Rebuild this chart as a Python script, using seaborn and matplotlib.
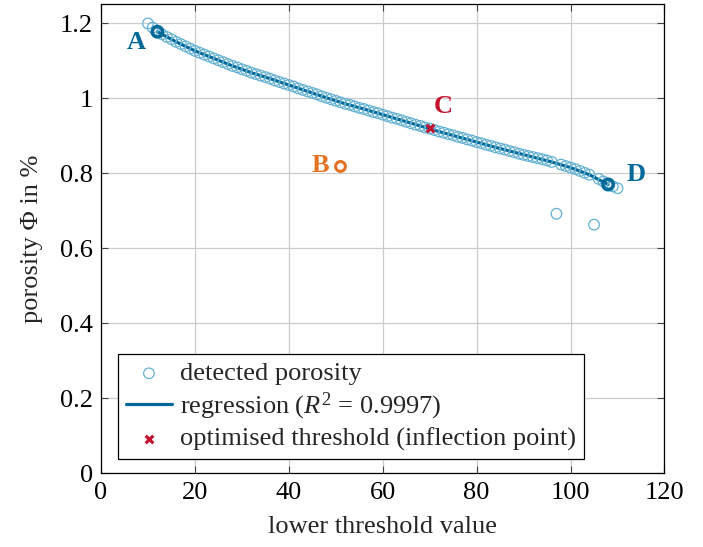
import numpy as np
import pandas as pd
import matplotlib
matplotlib.use("Agg")
import matplotlib.pyplot as plt
import seaborn as sns

# detected porosity (lower threshold value -> porosity)
thr = list(range(10, 111))
porosity = [
    1.199, 1.188, 1.177, 1.170, 1.163, 1.157, 1.150, 1.144, 1.138, 1.132,  # 10-19
    1.126, 1.121, 1.116, 1.111, 1.106, 1.101, 1.096, 1.091, 1.086, 1.082,  # 20-29
    1.077, 1.073, 1.068, 1.064, 1.060, 1.056, 1.052, 1.047, 1.043, 1.039,  # 30-39
    1.035, 1.031, 1.026, 1.022, 1.018, 1.014, 1.010, 1.005, 1.001, 0.997,  # 40-49
    0.993, 0.989, 0.985, 0.982, 0.978, 0.974, 0.971, 0.967, 0.963, 0.960,  # 50-59
    0.956, 0.952, 0.948, 0.945, 0.941, 0.937, 0.933, 0.929, 0.926, 0.922,  # 60-69
    0.919, 0.915, 0.911, 0.908, 0.904, 0.901, 0.897, 0.894, 0.890, 0.887,  # 70-79
    0.883, 0.880, 0.876, 0.873, 0.869, 0.866, 0.863, 0.859, 0.856, 0.852,  # 80-89
    0.849, 0.846, 0.843, 0.840, 0.837, 0.834, 0.830, 0.692, 0.823, 0.819,  # 90-99
    0.815, 0.811, 0.806, 0.801, 0.796, 0.663, 0.785, 0.778, 0.770, 0.765,  # 100-109
    0.760,                                                                 # 110
]

# regression curve
reg_x = [12, 16, 20, 24, 28, 32, 36, 40, 44, 48, 52, 56, 60, 64, 68, 72, 76, 80,
         84, 88, 92, 96, 100, 104, 108]
reg_y = [1.177, 1.150, 1.126, 1.106, 1.086, 1.068, 1.052, 1.035, 1.018, 1.001,
         0.985, 0.971, 0.956, 0.941, 0.926, 0.911, 0.897, 0.883, 0.869, 0.856,
         0.843, 0.830, 0.815, 0.796, 0.770]

# highlighted points
pt_labels = ["A", "B", "C", "D"]
pt_x = [12, 51, 70, 108]
pt_y = [1.177, 0.818, 0.920, 0.770]

xticks = [0, 20, 40, 60, 80, 100, 120]
yticks = [0, 0.2, 0.4, 0.6, 0.8, 1.0, 1.2]
yticklabels = ["0", "0.2", "0.4", "0.6", "0.8", "1", "1.2"]

LIGHT = "#62b1d3"
DARK = "#00699a"
RED = "#c4122f"
ORANGE = "#e37222"

sns.set_theme(style="whitegrid")
plt.rcParams["font.family"] = ["Liberation Serif", "DejaVu Serif"]
plt.rcParams["mathtext.fontset"] = "custom"
plt.rcParams["mathtext.rm"] = "Liberation Serif"
plt.rcParams["mathtext.it"] = "Liberation Serif:italic"

FS = 19

fig = plt.figure(figsize=(7.03, 5.47), dpi=100)
ax = fig.add_axes([0.1437, 0.1344, 0.8015, 0.8577])

df = pd.DataFrame({"thr": thr, "porosity": porosity})
rdf = pd.DataFrame({"x": reg_x, "y": reg_y})

REG_LABEL = "regression ($R^2$ = 0.9997)"
sns.lineplot(data=rdf, x="x", y="y", ax=ax, color=DARK, lw=2.3,
             label=REG_LABEL, zorder=3)
sns.scatterplot(data=df, x="thr", y="porosity", ax=ax, marker="o", s=58,
                facecolor="none", edgecolor=LIGHT, linewidth=0.9,
                label="detected porosity", zorder=4)

# A and D thick markers
ax.scatter([pt_x[0], pt_x[3]], [pt_y[0], pt_y[3]], s=55, facecolor="none",
           edgecolor=DARK, linewidth=2.6, zorder=6)
# B orange marker
ax.scatter([pt_x[1]], [pt_y[1]], s=50, facecolor="none", edgecolor=ORANGE,
           linewidth=2.2, zorder=6)
# C cross
ax.scatter([pt_x[2]], [pt_y[2]], marker="x", s=30, color=RED, linewidth=2.3,
           zorder=7, label="optimised threshold (inflection point)")

lab_off = {"A": (-4.4, -0.030, DARK), "B": (-4.3, 0.003, ORANGE),
           "C": (2.8, 0.058, RED), "D": (6.0, 0.026, DARK)}
for l, x, y in zip(pt_labels, pt_x, pt_y):
    dx, dy, c = lab_off[l]
    ax.text(x + dx, y + dy, l, color=c, fontsize=FS, fontweight="bold",
            ha="center", va="center", zorder=8)

ax.set_xlim(0, 120)
ax.set_ylim(0, 1.25)
ax.set_xticks(xticks)
ax.set_yticks(yticks)
ax.set_yticklabels(yticklabels)
ax.tick_params(direction="in", length=5, width=0.8, colors="#444444",
               labelcolor="black", labelsize=FS, top=True, right=True,
               bottom=True, left=True, pad=6)
ax.grid(True, color="#cccccc", lw=0.9)
for s in ax.spines.values():
    s.set_color("black")
    s.set_linewidth(0.9)
ax.set_xlabel("lower threshold value", fontsize=FS, labelpad=9)
ax.set_ylabel("porosity Φ in %", fontsize=FS, labelpad=12)

h, l = ax.get_legend_handles_labels()
order = [l.index("detected porosity"), l.index(REG_LABEL),
         l.index("optimised threshold (inflection point)")]
leg = ax.legend([h[i] for i in order], [l[i] for i in order], loc="lower left",
                bbox_to_anchor=(0.030, 0.031), fontsize=19, frameon=True,
                fancybox=False, edgecolor="black", framealpha=1,
                borderpad=0.3, labelspacing=0.2, handlelength=1.75,
                handletextpad=0.3, borderaxespad=0)
leg.get_frame().set_linewidth(0.9)

fig.savefig("out.png", dpi=100)
